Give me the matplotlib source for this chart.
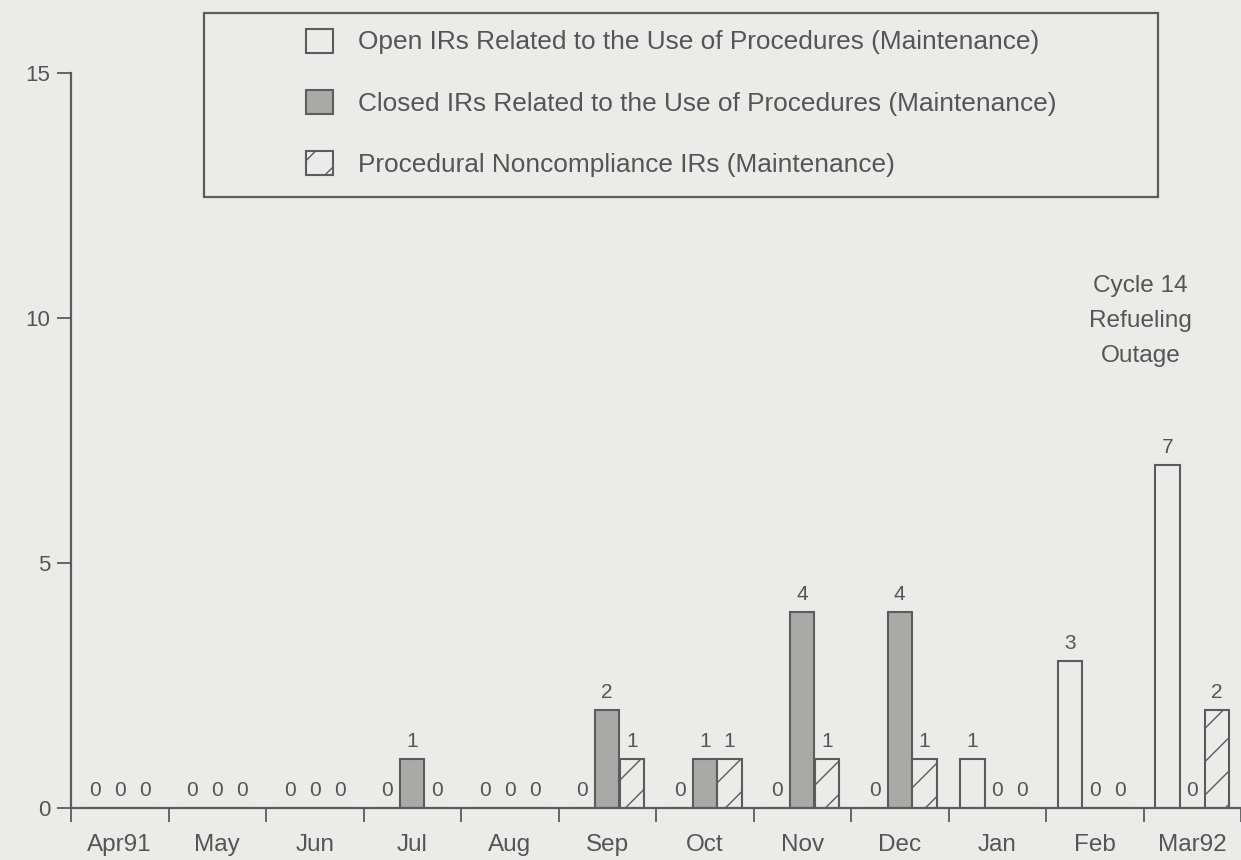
import numpy as np
import matplotlib.pyplot as plt
from matplotlib.patches import Patch, Rectangle

plt.rcParams['font.family'] = ['Liberation Sans', 'DejaVu Sans']
plt.rcParams['hatch.linewidth'] = 1.0

# --- data ---
months = ["Apr91", "May", "Jun", "Jul", "Aug", "Sep",
          "Oct", "Nov", "Dec", "Jan", "Feb", "Mar92"]
open_irs = [0, 0, 0, 0, 0, 0, 0, 0, 0, 1, 3, 7]
closed_irs = [0, 0, 0, 1, 0, 2, 1, 4, 4, 0, 0, 0]
noncompliance_irs = [0, 0, 0, 0, 0, 1, 1, 1, 1, 0, 0, 2]

labels = ["Open IRs Related to the Use of Procedures (Maintenance)",
          "Closed IRs Related to the Use of Procedures (Maintenance)",
          "Procedural Noncompliance IRs (Maintenance)"]

# --- styling ---
bg = "#ebebe9"
ink = "#555555"
edge = "#5c5c5c"
closed_fill = "#a9a9a7"

W, H = 1241, 860
x0 = 71           # y axis position in pixels
px_month = 98.36  # one month on the x axis, in pixels
fig = plt.figure(figsize=(W / 100, H / 100), dpi=100, facecolor=bg)
ax = fig.add_axes([x0 / W, 1 - 808 / H, 1 - x0 / W, (808 - 73) / H])
ax.set_facecolor(bg)

x = np.arange(len(months))
width = 0.25
offset = 0.255

b_open = ax.bar(x - offset, open_irs, width, color=bg, edgecolor=edge, linewidth=1.5)
b_closed = ax.bar(x, closed_irs, width, color=closed_fill, edgecolor=edge, linewidth=1.5)
b_nc = ax.bar(x + offset, noncompliance_irs, width, color=bg, edgecolor=edge,
              linewidth=1.5, hatch="/")

for cont in (b_open, b_closed, b_nc):
    ax.bar_label(cont, padding=6, fontsize=15, color=ink)

ax.set_xlim(-0.5, -0.5 + (W - x0) / px_month)
ax.set_ylim(0, 15)

for side in ("top", "right"):
    ax.spines[side].set_visible(False)
for side in ("left", "bottom"):
    ax.spines[side].set_color(edge)
    ax.spines[side].set_linewidth(1.6)

ax.set_yticks([0, 5, 10, 15])
ax.tick_params(axis="y", direction="out", length=10, width=1.3, color=edge,
               labelsize=16, labelcolor=ink, pad=5)

ax.set_xticks(np.arange(-0.5, len(months) + 0.5, 1))
ax.set_xticklabels([])
ax.tick_params(axis="x", which="major", direction="out", length=10, width=1.3, color=edge)
ax.set_xticks(x, minor=True)
ax.set_xticklabels(months, minor=True)
ax.tick_params(axis="x", which="minor", length=0, pad=19, labelsize=17.5, labelcolor=ink)

ax.text(10.47, 9.94, "Cycle 14\nRefueling\nOutage", ha="center", va="center",
        fontsize=17.6, color=ink, linespacing=1.77)

# legend box
fig.patches.append(Rectangle((204 / W, 1 - 197 / H), 954 / W, 184 / H,
                             transform=fig.transFigure, facecolor="none",
                             edgecolor=edge, linewidth=1.6))
handles = [Patch(facecolor=bg, edgecolor=edge, linewidth=1.5),
           Patch(facecolor=closed_fill, edgecolor=edge, linewidth=1.5),
           Patch(facecolor=bg, edgecolor=edge, linewidth=1.5, hatch="/")]
fig.legend(handles, labels, loc="upper left", bbox_to_anchor=(306 / W, 1 - 28.5 / H),
           frameon=False, fontsize=18.9, labelcolor=ink, borderpad=0,
           borderaxespad=0, handlelength=1.03, handleheight=1.03,
           handletextpad=0.95, labelspacing=1.35)

fig.savefig("out.png", dpi=100, facecolor=bg)
